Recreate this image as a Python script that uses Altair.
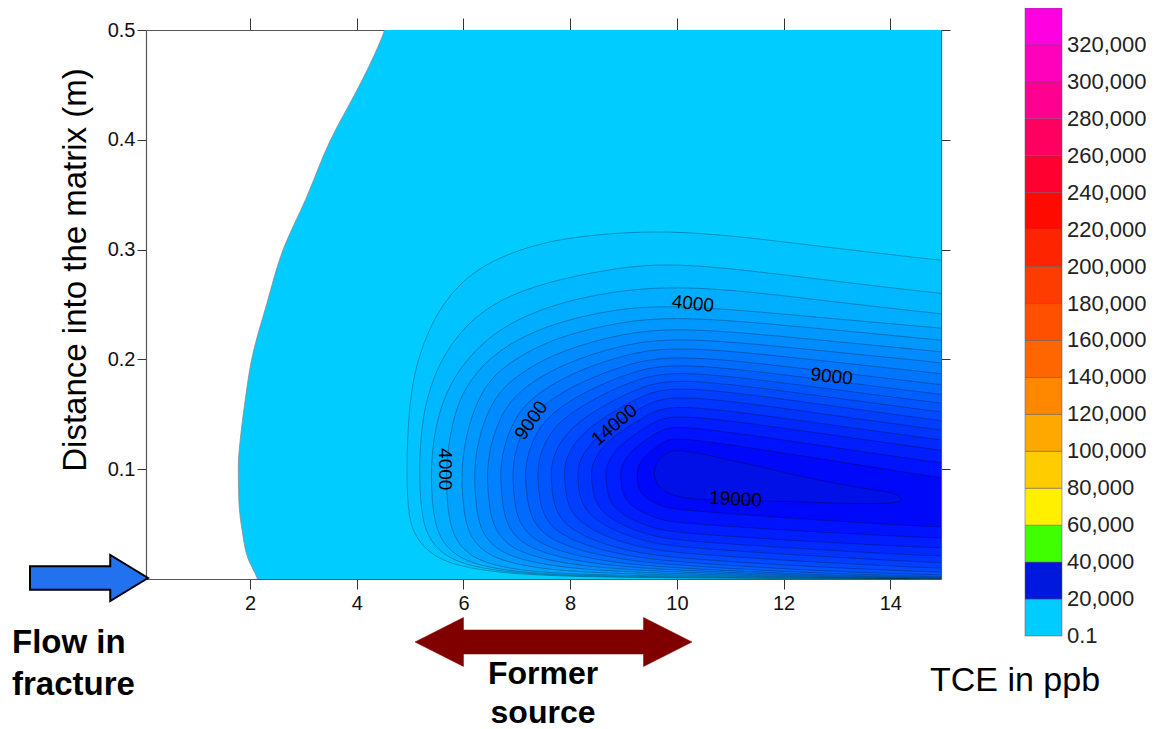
import altair as alt
import pandas as pd

# ---------------- data ----------------
LEVELS = [1000, 2000, 3000, 4000, 5000, 6000, 7000, 8000, 9000, 10000,
          11000, 12000, 13000, 14000, 15000, 16000, 17000, 18000, 19000]

C1000 = [(15.5,.288),(14.95,.290),(12.5,.304),(10.0,.319),(8.2,.313),(7.26,.304),(6.32,.286),(5.7,.258),(5.32,.225),(5.07,.188),(4.97,.15),(4.93,.10),(4.96,.06),(5.08,.0385),(5.44,.0196),(6.05,.0097),(7.06,.0038),(8.48,.0018),(10.0,.0008),(12.5,.0003),(14.95,.0001),(15.5,.0001)]
C2000 = [(15.5,.258),(14.95,.2598),(12.5,.274),(10.0,.289),(8.81,.283),(7.58,.271),(6.63,.254),(6.01,.230),(5.57,.200),(5.29,.163),(5.2,.13),(5.17,.10),(5.2,.063),(5.31,.0387),(5.65,.020),(6.23,.0101),(7.2,.0042),(8.55,.0022),(10.0,.0012),(12.5,.0004),(14.95,.0002),(15.5,.0002)]
C3000 = [(15.5,.239),(14.95,.2413),(12.5,.255),(10.0,.2695),(8.19,.258),(6.94,.237),(6.19,.209),(5.70,.175),(5.47,.14),(5.38,.10),(5.42,.064),(5.52,.0391),(5.84,.0205),(6.40,.0106),(7.32,.0047),(8.61,.0028),(10.0,.0018),(12.5,.0006),(14.95,.0003),(15.5,.0003)]
C4000 = [(15.5,.226),(14.95,.2285),(12.5,.239),(10.0,.250),(8.81,.246),(7.58,.232),(6.63,.209),(6.01,.176),(5.77,.14),(5.66,.10),(5.7,.065),(5.79,.0396),(6.09,.0211),(6.61,.0114),(7.48,.0055),(8.70,.0036),(10.0,.0026),(12.5,.0009),(14.95,.0004),(15.5,.0004)]
C5000 = [(15.5,.215),(14.95,.2175),(12.5,.229),(10.0,.240),(8.785,.2331),(7.65,.2187),(6.84,.1973),(6.355,.1748),(6.07,.1374),(5.95,.10),(5.99,.068),(6.07,.0427),(6.355,.0245),(6.84,.0146),(7.65,.0080),(8.785,.0051),(10.0,.0036),(12.5,.0012),(14.95,.0005),(15.5,.0005)]
C6000 = [(15.5,.204),(14.95,.207),(12.5,.2185),(10.0,.230),(8.86,.2225),(7.79,.2074),(7.03,.1871),(6.57,.1660),(6.30,.1330),(6.19,.10),(6.23,.070),(6.30,.0459),(6.57,.0280),(7.03,.0179),(7.79,.0107),(8.86,.0069),(10.0,.0048),(12.5,.0016),(14.95,.0006),(15.5,.0006)]
C7000 = [(15.5,.194),(14.95,.197),(12.5,.209),(10.0,.221),(8.93,.2129),(7.93,.1973),(7.22,.1780),(6.79,.1583),(6.54,.1292),(6.43,.10),(6.47,.072),(6.54,.0492),(6.79,.0317),(7.22,.0215),(7.93,.0136),(8.93,.0089),(10.0,.0063),(12.5,.0021),(14.95,.0008),(15.5,.0008)]
C8000 = [(15.5,.184),(14.95,.187),(12.5,.200),(10.0,.213),(9.00,.2044),(8.07,.1884),(7.41,.1701),(7.01,.1515),(6.78,.1258),(6.68,.10),(6.72,.074),(6.78,.0525),(7.01,.0354),(7.41,.0251),(8.07,.0166),(9.00,.0111),(10.0,.008),(12.5,.0028),(14.95,.0011),(15.5,.0011)]
C9000 = [(15.5,.174),(14.95,.177),(12.5,.191),(10.0,.205),(9.07,.1961),(8.21,.1798),(7.59,.1625),(7.22,.1452),(7.00,.1226),(6.91,.10),(6.945,.076),(7.00,.0559),(7.22,.0392),(7.59,.0289),(8.21,.0199),(9.07,.0136),(10.0,.010),(12.5,.0037),(14.95,.0015),(15.5,.0015)]
C10000 = [(15.5,.165),(14.95,.168),(12.5,.183),(10.0,.198),(9.145,.1888),(8.35,.1723),(7.78,.1559),(7.435,.1396),(7.24,.1198),(7.15,.10),(7.18,.078),(7.24,.0594),(7.435,.0433),(7.78,.0330),(8.35,.0235),(9.145,.0165),(10.0,.0125),(12.5,.0052),(14.95,.0022),(15.5,.0022)]
C11000 = [(15.5,.157),(14.95,.160),(12.5,.1755),(10.0,.191),(9.21,.1816),(8.48,.1652),(7.96,.1496),(7.64,.1344),(7.46,.1172),(7.38,.10),(7.41,.080),(7.46,.0630),(7.64,.0475),(7.96,.0373),(8.48,.0275),(9.21,.0199),(10.0,.0155),(12.5,.0075),(14.95,.0035),(15.5,.0035)]
C12000 = [(15.5,.149),(14.95,.152),(12.5,.168),(10.0,.184),(9.29,.1745),(8.625,.1580),(8.15,.1432),(7.87,.1289),(7.70,.1140),(7.63,.099),(7.66,.081),(7.70,.0660),(7.87,.0515),(8.15,.0416),(8.625,.0316),(9.29,.0236),(10.0,.019),(12.5,.011),(14.95,.006),(15.5,.006)]
C13000 = [(15.5,.141),(14.95,.144),(12.5,.1605),(10.0,.177),(9.36,.1676),(8.77,.1514),(8.35,.1376),(8.09,.1244),(7.94,.1117),(7.88,.099),(7.91,.083),(7.94,.0699),(8.09,.0562),(8.35,.0466),(8.77,.0366),(9.36,.0283),(10.0,.0235),(12.5,.0155),(14.95,.0095),(15.5,.0095)]
C14000 = [(15.5,.1325),(14.95,.1355),(12.5,.152),(10.0,.169),(9.44,.1598),(8.915,.1442),(8.54,.1314),(8.32,.1193),(8.19,.1087),(8.13,.098),(8.155,.084),(8.19,.0732),(8.32,.0607),(8.54,.0518),(8.915,.0421),(9.44,.0338),(10.0,.029),(12.5,.021),(14.95,.0145),(15.5,.0145)]
C15000 = [(15.5,.1235),(14.95,.1265),(12.5,.143),(10.0,.160),(9.52,.1519),(9.07,.1383),(8.74,.1271),(8.55,.1166),(8.44,.1073),(8.39,.098),(8.41,.086),(8.44,.0753),(8.55,.0640),(8.74,.0558),(9.07,.0470),(9.52,.0394),(10.0,.035),(12.5,.027),(14.95,.0205),(15.5,.0205)]
C16000 = [(15.5,.114),(14.95,.117),(12.5,.134),(10.0,.151),(9.60,.1440),(9.22,.1321),(8.955,.1224),(8.79,.1132),(8.70,.1051),(8.66,.097),(8.68,.087),(8.70,.0772),(8.79,.0673),(8.955,.0601),(9.22,.0524),(9.60,.0458),(10.0,.042),(12.5,.034),(14.95,.028),(15.5,.028)]
C17000 = [(15.5,.1025),(14.95,.1055),(12.5,.123),(10.0,.141),(9.68,.1353),(9.385,.1256),(9.17,.1177),(9.05,.1102),(8.97,.1036),(8.94,.097),(8.955,.089),(8.97,.0804),(9.05,.0722),(9.17,.0662),(9.385,.0597),(9.68,.0542),(10.0,.051),(12.5,.043),(14.95,.037),(15.5,.037)]
C18000 = [(15.5,.089),(14.95,.092),(12.5,.111),(10.0,.130),(9.775,.1257),(9.565,.1185),(9.415,.1125),(9.325,.1069),(9.27,.1020),(9.25,.097),(9.26,.090),(9.27,.0848),(9.325,.0786),(9.415,.0742),(9.565,.0695),(9.775,.0654),(10.0,.063),(12.5,.054),(14.95,.047),(15.5,.047)]
C19000 = [(9.57,.096),(9.6,.104),(9.7,.111),(9.85,.116),(10.0,.1176),(10.5,.114),(10.95,.1085),(11.6,.102),(12.18,.0948),(13.12,.0857),(13.7,.081),(14.05,.0785),(14.2,.075),(14.22,.0705),(14.0,.069),(13.44,.0684),(12.8,.0695),(12.18,.0705),(11.2,.0715),(10.32,.072),(9.88,.0766),(9.68,.083),(9.6,.089)]

CONTOURS = [C1000, C2000, C3000, C4000, C5000, C6000, C7000, C8000, C9000, C10000,
            C11000, C12000, C13000, C14000, C15000, C16000, C17000, C18000, C19000]

LEVEL_FILLS = ["#00C3FF", "#00B8FF", "#00ADFF", "#00A2FF", "#0097FF", "#008CFF", "#0081FF",
               "#0076FF", "#006BFF", "#0060FF", "#0055FF", "#004AFF", "#003FFF", "#0034FF",
               "#0029FF", "#001EFF", "#0013FF", "#0008FA", "#0010E6"]

# outer (0.1 ppb) boundary: x of the left edge of the plume for each depth
OUTER_Y = [-0.02, 0.0, 0.0203, 0.0417, 0.072, 0.1024, 0.1328, 0.1632, 0.20, 0.25, 0.30,
           0.3455, 0.40, 0.4458, 0.464, 0.4883, 0.501, 0.52]
OUTER_X = [2.25, 2.14, 1.95, 1.86, 1.79, 1.78, 1.83, 1.91, 2.03, 2.31, 2.62,
           3.04, 3.51, 4.01, 4.20, 4.43, 4.53, 4.62]

LABEL_TEXT = ["4000", "4000", "9000", "9000", "14000", "19000"]
LABEL_X = [5.66, 10.30, 7.27, 12.90, 8.83, 11.10]
LABEL_Y = [0.100, 0.2507, 0.1443, 0.1844, 0.1404, 0.0727]
LABEL_ANGLE = [90, 6, 305, 6, 320, 3]

CB_LO = [0.1, 20000, 40000, 60000, 80000, 100000, 120000, 140000, 160000, 180000,
         200000, 220000, 240000, 260000, 280000, 300000, 320000]
CB_HI = [20000, 40000, 60000, 80000, 100000, 120000, 140000, 160000, 180000, 200000,
         220000, 240000, 260000, 280000, 300000, 320000, 340000]
CB_COLORS = ["#00CCFF", "#0018DD", "#40FF00", "#FFF000", "#FFCC00", "#FFA800", "#FF8800",
             "#FF6600", "#FF5000", "#FF3C00", "#FF2400", "#FF0A00", "#FF0030", "#FF0060",
             "#FF0090", "#FF00BB", "#FF00E0"]
CB_TICKS = [0.1, 20000, 40000, 60000, 80000, 100000, 120000, 140000, 160000, 180000,
            200000, 220000, 240000, 260000, 280000, 300000, 320000]

# ---------------- tables ----------------
rows = []
for lv, pts in zip(LEVELS, CONTOURS):
    for i, (x, y) in enumerate(pts):
        rows.append({"level": lv, "i": i, "x": x, "y": y})
cdf = pd.DataFrame(rows)
outer_df = pd.DataFrame({"y": OUTER_Y, "x": OUTER_X})
lab_df = pd.DataFrame({"t": LABEL_TEXT, "x": LABEL_X, "y": LABEL_Y, "a": LABEL_ANGLE})
cb_df = pd.DataFrame({"lo": CB_LO, "hi": CB_HI, "c": CB_COLORS})
cbt_df = pd.DataFrame({"v": CB_TICKS})
one = pd.DataFrame({"k": [0]})

SANS = "Liberation Sans, Arial, sans-serif"

xs = alt.Scale(domain=[0.05, 14.95], nice=False, zero=False)
ys = alt.Scale(domain=[0, 0.5], nice=False, zero=False)

axis_common = dict(title=None, grid=False, domainColor="#555555", domainWidth=1.2,
                   tickColor="#333333", tickWidth=1)
left_axis = alt.Axis(orient="left", values=[0.1, 0.2, 0.3, 0.4, 0.5], format=".1f",
                     tickSize=9, labelPadding=2, labelFont=SANS, labelFontSize=20,
                     labelColor="#111111", **axis_common)
bottom_axis = alt.Axis(orient="bottom", values=[2, 4, 6, 8, 10, 12, 14], format="d",
                       tickSize=10, labelPadding=4, labelFont=SANS, labelFontSize=20,
                       labelColor="#111111", **axis_common)
top_axis = alt.Axis(orient="top", values=[2, 4, 6, 8, 10, 12, 14], labels=False,
                    tickSize=12, **axis_common)
right_axis = alt.Axis(orient="right", values=[0.1, 0.2, 0.3, 0.4, 0.5], labels=False,
                      tickSize=9, **axis_common)

# plume beyond 0.1 ppb
outer = alt.Chart(outer_df).mark_area(
    orient="horizontal", interpolate="monotone", color="#00CCFF",
    stroke="#8a8a8a", strokeWidth=0.8, clip=True
).encode(
    y=alt.Y("y:Q", scale=ys, axis=left_axis),
    x=alt.X("x:Q", scale=xs, axis=bottom_axis),
    x2=alt.datum(15.5),
)

layers = [outer]
for k, lv in enumerate(LEVELS):
    last = lv == LEVELS[-1]
    layers.append(
        alt.Chart(cdf).transform_filter(alt.datum.level == lv).mark_line(
            interpolate="basis-closed" if last else "basis",
            fill=LEVEL_FILLS[k], stroke="#000000", strokeOpacity=0.4,
            strokeWidth=0.7, clip=True
        ).encode(
            x=alt.X("x:Q", scale=xs, axis=top_axis if last else None),
            y=alt.Y("y:Q", scale=ys, axis=right_axis if last else None),
            order=alt.Order("i:Q"),
        )
    )

labels = alt.Chart(lab_df).mark_text(
    font=SANS, fontSize=19, color="#000000", baseline="middle", align="center"
).encode(
    x=alt.X("x:Q", scale=xs, axis=None),
    y=alt.Y("y:Q", scale=ys, axis=None),
    text="t:N",
    angle=alt.Angle("a:Q", scale=None),
)
layers.append(labels)
main = alt.layer(*layers)

# colour bar
cb_scale = alt.Scale(domain=[0.1, 340000], range=[606, -22], nice=False, zero=False)
cbar = alt.Chart(cb_df).mark_rect(stroke="#5a5a5a", strokeWidth=0.5).encode(
    x=alt.value(879), x2=alt.value(916),
    y=alt.Y("lo:Q", scale=cb_scale, axis=None),
    y2="hi:Q",
    color=alt.Color("c:N", scale=None),
)
cbar_text = alt.Chart(cbt_df).mark_text(
    font=SANS, fontSize=22, color="#222222", align="left", baseline="middle"
).encode(
    x=alt.value(921),
    y=alt.Y("v:Q", scale=cb_scale, axis=None),
    text=alt.Text("v:Q", format=","),
)
colorbar = alt.layer(cbar, cbar_text)

# annotations
ytitle = alt.Chart(one).mark_text(
    text="Distance into the matrix (m)", font=SANS, fontSize=33, angle=270,
    align="center", baseline="middle", color="#000000"
).encode(x=alt.value(-70), y=alt.value(240))

flow_txt = alt.Chart(one).mark_text(
    text=["Flow in", "fracture"], font=SANS, fontSize=33, fontWeight="bold",
    lineHeight=42, align="left", baseline="alphabetic", color="#000000"
).encode(x=alt.value(-134), y=alt.value(623))

former_txt = alt.Chart(one).mark_text(
    text=["Former", "source"], font=SANS, fontSize=32, fontWeight="bold",
    lineHeight=39, align="center", baseline="alphabetic", color="#000000"
).encode(x=alt.value(397), y=alt.value(654))

tce_txt = alt.Chart(one).mark_text(
    text="TCE in ppb", font=SANS, fontSize=34, align="left",
    baseline="alphabetic", color="#000000"
).encode(x=alt.value(784), y=alt.value(661))

BLUE_ARROW = "M -1 -0.2 L 0.36 -0.2 L 0.36 -0.39 L 1 0 L 0.36 0.39 L 0.36 0.2 L -1 0.2 Z"
RED_ARROW = ("M -1 0 L -0.65 -0.177 L -0.65 -0.087 L 0.65 -0.087 L 0.65 -0.177 L 1 0 "
             "L 0.65 0.177 L 0.65 0.087 L -0.65 0.087 L -0.65 0.177 Z")

blue_arrow = alt.Chart(one).mark_point(
    shape=BLUE_ARROW, size=13924, filled=True, fill="#2272F0", stroke="#000000",
    strokeWidth=2, opacity=1
).encode(x=alt.value(-57), y=alt.value(548))

red_arrow = alt.Chart(one).mark_point(
    shape=RED_ARROW, size=76729, filled=True, fill="#800000", stroke="#800000",
    strokeWidth=0.5, opacity=1
).encode(x=alt.value(407.5), y=alt.value(612))

chart = alt.layer(
    main, colorbar, ytitle, flow_txt, former_txt, tce_txt, blue_arrow, red_arrow
).resolve_scale(y="independent").properties(
    width=795, height=549,
    autosize=alt.AutoSizeParams(type="none"),
    padding={"left": 138, "top": 22, "right": 205, "bottom": 151},
    background="white",
).configure_view(stroke=None)

chart.save("out.html", embed_options={"renderer": "svg", "actions": False})
